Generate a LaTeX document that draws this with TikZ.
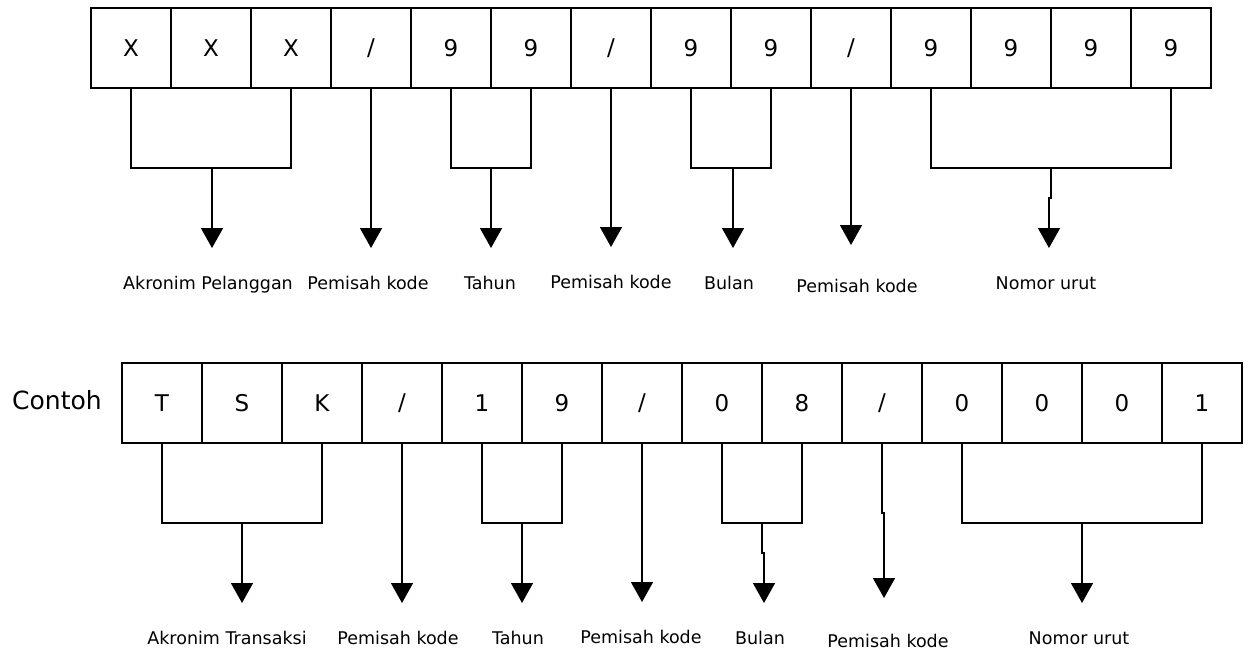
\documentclass[tikz,border=0pt]{standalone}
\usepackage{fontspec}
\setmainfont{DejaVu Sans}
\usetikzlibrary{arrows.meta,positioning}

\begin{document}
\begin{tikzpicture}[x=1pt,y=-1pt,
    cell/.style={draw,line width=1.6pt,minimum width=80pt,minimum height=80pt,inner sep=0pt,font=\fontsize{23}{27}\selectfont},
    lbl/.style={anchor=base,inner sep=0pt,font=\fontsize{17.5}{21}\selectfont},
    brk/.style={line width=1.6pt},
    arr/.style={line width=1.6pt,-{Triangle[length=20pt,width=22pt]}}]
  \useasboundingbox (0,0) rectangle (1248,650);
  \foreach \c [count=\i] in {X,X,X,/,9,9,/,9,9,/,9,9,9,9}
    \node[cell] (t\i) at ({51+80*\i},48) {\c};
  \foreach \c [count=\i] in {T,S,K,/,1,9,/,0,8,/,0,0,0,1}
    \node[cell] (b\i) at ({82+80*\i},403) {\c};
  \node[anchor=base,font=\fontsize{25}{29}\selectfont] (contoh) at (57,409) {Contoh};

  \coordinate (tjA) at (212,168);
  \coordinate (tjT) at (491,168);
  \coordinate (tjB) at (733,168);
  \coordinate (tjN) at (1051,168);
  \coordinate (ttA) at (212,248);
  \coordinate (ttP1) at (371,248);
  \coordinate (ttT) at (491,248);
  \coordinate (ttP2) at (611,247);
  \coordinate (ttB) at (733,248);
  \coordinate (ttP3) at (851,245);
  \coordinate (ttN) at (1049,248);
  \draw[brk] (t1.south) |- (tjA) -| (t3.south);
  \draw[brk] (t5.south) |- (tjT) -| (t6.south);
  \draw[brk] (t8.south) |- (tjB) -| (t9.south);
  \draw[brk] (t11.south) |- (tjN) -| (t14.south);
  \draw[arr] (tjA) -- (ttA);
  \draw[arr] (t4.south) -- (ttP1);
  \draw[arr] (tjT) -- (ttT);
  \draw[arr] (t7.south) -- (ttP2);
  \draw[arr] (tjB) -- (ttB);
  \draw[arr] (t10.south) -- (ttP3);
  \draw[arr] (tjN) -- ++(0,30) -| (ttN);
  \node[lbl] (tlA) at (208,289) {Akronim Pelanggan};
  \node[lbl] (tlP1) at (368,289) {Pemisah kode};
  \node[lbl] (tlT) at (490,289) {Tahun};
  \node[lbl] (tlP2) at (611,288) {Pemisah kode};
  \node[lbl] (tlB) at (729,289) {Bulan};
  \node[lbl] (tlP3) at (857,292) {Pemisah kode};
  \node[lbl] (tlN) at (1046,289) {Nomor urut};

  \coordinate (bjA) at (242,523);
  \coordinate (bjT) at (522,523);
  \coordinate (bjB) at (762,523);
  \coordinate (bjN) at (1082,523);
  \coordinate (btA) at (242,603);
  \coordinate (btP1) at (402,603);
  \coordinate (btT) at (522,603);
  \coordinate (btP2) at (642,602);
  \coordinate (btB) at (764,603);
  \coordinate (btP3) at (884,598);
  \coordinate (btN) at (1082,603);
  \draw[brk] (b1.south) |- (bjA) -| (b3.south);
  \draw[brk] (b5.south) |- (bjT) -| (b6.south);
  \draw[brk] (b8.south) |- (bjB) -| (b9.south);
  \draw[brk] (b11.south) |- (bjN) -| (b14.south);
  \draw[arr] (bjA) -- (btA);
  \draw[arr] (b4.south) -- (btP1);
  \draw[arr] (bjT) -- (btT);
  \draw[arr] (b7.south) -- (btP2);
  \draw[arr] (bjB) -- ++(0,30) -| (btB);
  \draw[arr] (b10.south) -- ++(0,69) -| (btP3);
  \draw[arr] (bjN) -- (btN);
  \node[lbl] (blA) at (227,644) {Akronim Transaksi};
  \node[lbl] (blP1) at (398,644) {Pemisah kode};
  \node[lbl] (blT) at (518,644) {Tahun};
  \node[lbl] (blP2) at (641,643) {Pemisah kode};
  \node[lbl] (blB) at (760,644) {Bulan};
  \node[lbl] (blP3) at (888,647) {Pemisah kode};
  \node[lbl] (blN) at (1079,644) {Nomor urut};
\end{tikzpicture}
\end{document}
